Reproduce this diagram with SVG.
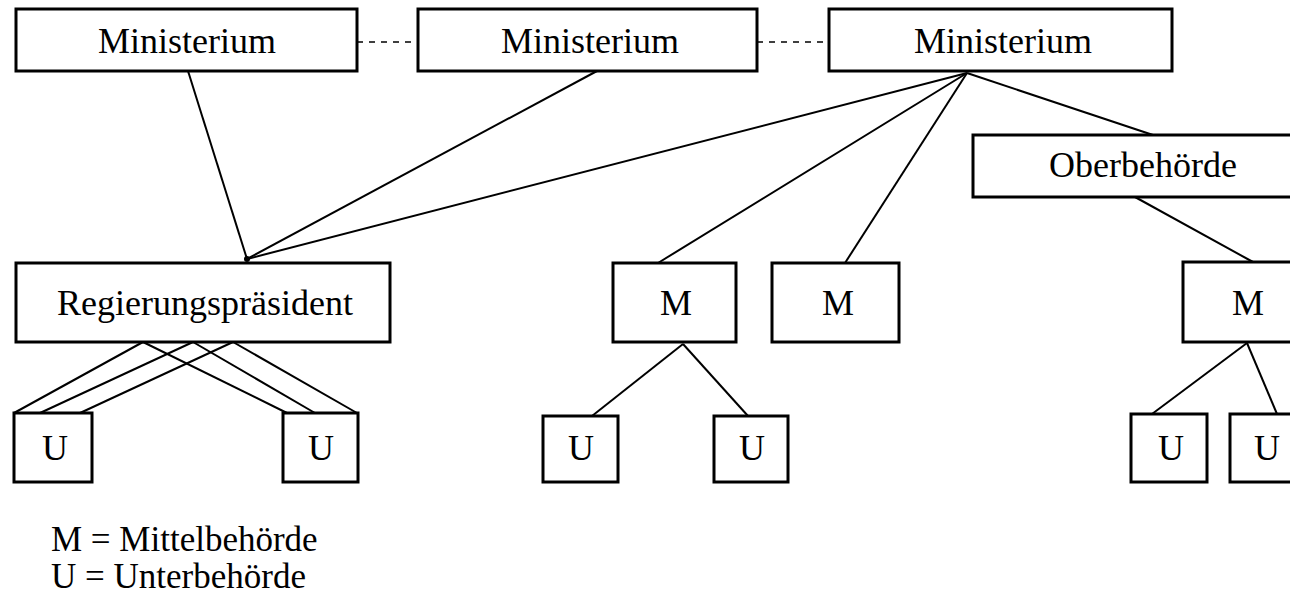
<svg xmlns="http://www.w3.org/2000/svg" width="1290" height="600" viewBox="0 0 1290 600">
<style>
.box{fill:#fff;stroke:#000;stroke-width:3}
.t{font-family:"Liberation Serif","DejaVu Serif",serif;font-size:36px;fill:#000;text-anchor:middle}
.lg{font-family:"Liberation Serif","DejaVu Serif",serif;font-size:35px;fill:#000}
.c line{stroke:#000;stroke-width:2;fill:none}
.c .d{stroke-width:1.5;stroke-dasharray:6 6}
</style>
<rect width="1290" height="600" fill="#fff"/>
<g class="c" id="connectors">
<line class="d" x1="357" y1="42" x2="418" y2="42"/>
<line class="d" x1="757" y1="42" x2="829" y2="42"/>
<line x1="188" y1="71" x2="247" y2="259"/>
<line x1="597" y1="71" x2="247" y2="259"/>
<line x1="967" y1="73" x2="247" y2="259"/>
<line x1="967" y1="73" x2="658" y2="263"/>
<line x1="967" y1="73" x2="845" y2="263"/>
<line x1="967" y1="73" x2="1153" y2="135"/>
<line x1="1135" y1="197" x2="1253" y2="262"/>
<line x1="683" y1="344" x2="592" y2="416"/>
<line x1="683" y1="344" x2="748" y2="416"/>
<line x1="1247" y1="343" x2="1152" y2="414"/>
<line x1="1247" y1="343" x2="1277" y2="414"/>
<line x1="143" y1="342" x2="14" y2="413"/>
<line x1="193" y1="342" x2="40" y2="413"/>
<line x1="233" y1="342" x2="80" y2="413"/>
<line x1="143" y1="342" x2="287" y2="413"/>
<line x1="193" y1="342" x2="315" y2="413"/>
<line x1="233" y1="342" x2="357" y2="413"/>
<circle cx="247" cy="259" r="3" fill="#000"/>
</g>
<g id="min1"><rect class="box" x="16" y="9" width="341" height="62"/><text class="t" x="187" y="53">Ministerium</text></g>
<g id="min2"><rect class="box" x="418" y="9" width="339" height="62"/><text class="t" x="590" y="53">Ministerium</text></g>
<g id="min3"><rect class="box" x="829" y="9" width="343" height="62"/><text class="t" x="1003" y="53">Ministerium</text></g>
<g id="ober"><rect class="box" x="973" y="135" width="340" height="62"/><text class="t" x="1143" y="177">Oberbehörde</text></g>
<g id="rp"><rect class="box" x="16" y="263" width="374" height="79"/><text class="t" x="205" y="315">Regierungspräsident</text></g>
<g id="m1"><rect class="box" x="613" y="263" width="123" height="79"/><text class="t" x="676" y="315">M</text></g>
<g id="m2"><rect class="box" x="772" y="263" width="127" height="79"/><text class="t" x="838" y="315">M</text></g>
<g id="m3"><rect class="box" x="1183" y="262" width="130" height="80"/><text class="t" x="1248" y="315">M</text></g>
<g id="u1"><rect class="box" x="14" y="413" width="78" height="69"/><text class="t" x="55" y="460">U</text></g>
<g id="u2"><rect class="box" x="283" y="413" width="75" height="69"/><text class="t" x="321" y="460">U</text></g>
<g id="u3"><rect class="box" x="543" y="416" width="75" height="66"/><text class="t" x="581" y="460">U</text></g>
<g id="u4"><rect class="box" x="714" y="416" width="74" height="66"/><text class="t" x="752" y="460">U</text></g>
<g id="u5"><rect class="box" x="1131" y="414" width="76" height="68"/><text class="t" x="1171" y="460">U</text></g>
<g id="u6"><rect class="box" x="1230" y="414" width="76" height="68"/><text class="t" x="1267" y="460">U</text></g>
<g id="legend">
<text class="lg" x="51" y="551">M = Mittelbehörde</text>
<text class="lg" x="51" y="588">U = Unterbehörde</text>
</g>
</svg>
